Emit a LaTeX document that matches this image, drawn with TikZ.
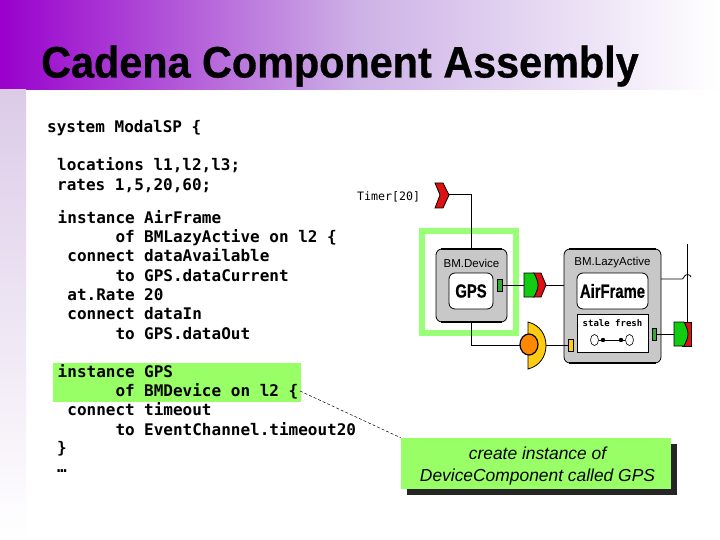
\documentclass[tikz,border=0pt]{standalone}
\usepackage{fontspec}
\setmainfont{Liberation Sans}
\newfontfamily\codefont{DejaVu Sans Mono}
\usetikzlibrary{positioning,calc,shapes.geometric}
\definecolor{hlgreen}{HTML}{99FF66}
\definecolor{frameg}{HTML}{99FF77}
\definecolor{boxgray}{HTML}{C8C8C8}
\definecolor{pgreen}{HTML}{33AA33}
\definecolor{cgreen}{HTML}{11CC11}
\definecolor{cred}{HTML}{DD1111}
\definecolor{cyel}{HTML}{FFCC11}
\definecolor{corange}{HTML}{FF8800}
\definecolor{tpurple}{HTML}{9900CC}
\definecolor{tmid}{HTML}{CDB2E6}
\definecolor{stripc}{HTML}{DCCBE8}
\tikzset{
  px/.style={x=1pt,y=-1pt},
  codeL/.style={anchor=base east,inner sep=0pt,font=\codefont\bfseries\fontsize{16}{16}\selectfont},
  codeR/.style={anchor=base west,inner sep=0pt,font=\codefont\bfseries\fontsize{16}{16}\selectfont},
  wire/.style={draw=black,line width=0.8pt},
  compbox/.style={draw=black,fill=boxgray,line width=0.8pt,rounded corners=6pt,minimum width=0pt,inner sep=0pt},
  innerbox/.style={draw=black,fill=white,line width=0.8pt,rounded corners=6pt,inner sep=0pt,font=\bfseries\fontsize{19}{19}\selectfont},
  port/.style={draw=black,line width=0.4pt,inner sep=0pt,minimum width=4.5pt,minimum height=12pt},
  outline/.style={draw=black,line width=0.8pt},
  smalllabel/.style={inner sep=0pt,font=\fontsize{11.5}{12}\selectfont},
  stateell/.style={draw=black,fill=white,ellipse,line width=0.6pt,inner sep=0pt,minimum width=8pt,minimum height=11pt},
}
\begin{document}
\begin{tikzpicture}[px]
\useasboundingbox (0,0) rectangle (720,540);
\fill[white] (0,0) rectangle (720,540);
% header band and strip
\shade[left color=tpurple,right color=white,middle color=tmid] (0,0) rectangle (720,90);
\shade[top color=stripc,bottom color=white] (0,90) rectangle (26,540);
\node[anchor=base west,inner sep=0pt,font=\bfseries\fontsize{44}{44}\selectfont] (title) at (41,77.5) {\addfontfeatures{FakeStretch=0.94,FakeBold=0.7}Cadena Component Assembly};
% highlight
\fill[hlgreen] (53,363) rectangle (301,402);
% code
\node[codeR] (c1) at (47,132.5) {system ModalSP \{};
\node[codeR] (c2) at (57,170.5) {locations l1,l2,l3;};
\node[codeR] (c3) at (57,190.5) {rates 1,5,20,60;};
\foreach \n/\y/\l/\r in {a/223.5/instance/AirFrame,b/242.5/of/BMLazyActive on l2 \{,d/261.5/connect/dataAvailable,e/281/to/GPS.dataCurrent,f/300.5/at.Rate/20,g/319.5/connect/dataIn,h/339/to/GPS.dataOut,i/377/instance/GPS,j/396.5/of/BMDevice on l2 \{,k/415.5/connect/timeout,m/435/to/EventChannel.timeout20}{
  \node[codeL] (l\n) at (135,\y) {\l};
  \node[codeR] (r\n) at (144,\y) {\r};
}
\node[codeR] (c4) at (57,453.5) {\}};
\node[codeR] (c5) at (57,472.5) {…};
% green frame
\draw[frameg,line width=6pt] (422,231) rectangle (516,333);
% component boxes
\node[compbox,minimum width=71pt,minimum height=73pt] (dev) at (471.5,285.5) {};
\node[compbox,minimum width=97pt,minimum height=114pt] (lazy) at (612.5,306) {};
\draw[line width=1.4pt] (441,249) -- (502,249) (441,322) -- (502,322);
\draw[line width=1.4pt] (569,249) -- (656,249) (569,363) -- (656,363);
\node[smalllabel] (devt) at (471.5,263) {BM.Device};
\node[smalllabel] (lazyt) at (612.5,263) {BM.LazyActive};
\node[innerbox,minimum width=44pt,minimum height=36pt] (gps) at (471,291) {\addfontfeatures{FakeStretch=0.78,FakeBold=0.5}GPS};
\node[innerbox,minimum width=71pt,minimum height=36pt] (af) at (612.5,291) {\addfontfeatures{FakeStretch=0.78,FakeBold=0.5}AirFrame};
\node[draw=black,fill=white,line width=0.8pt,inner sep=0pt,minimum width=71pt,minimum height=38pt] (sf) at (612.5,333) {};
\node[inner sep=0pt,font=\codefont\bfseries\fontsize{9}{9}\selectfont] (sft) at (612.5,323) {stale fresh};
\node[stateell] (s1) at (594.5,340) {};
\node[stateell] (s2) at (629.5,340) {};
\draw[line width=0.7pt] (s1) -- (s2);
\fill (603,340) circle (2.2pt) (621,340) circle (2.2pt);
% ports
\node[port,fill=pgreen] (p1) at (499.5,285) {};
\node[port,fill=cyel] (p2) at (570.5,345) {};
\node[port,fill=pgreen] (p3) at (654,334) {};
% connection points
\coordinate (tmr) at (449,194);
\coordinate (c1w) at (524,285);
\coordinate (c1e) at (546,285);
\coordinate (yle) at (546,345);
\coordinate (orw) at (520,345);
\coordinate (c2w) at (674,334);
\coordinate (vtop) at (687.5,244);
\coordinate (vbot) at (687.5,322);
\coordinate (hop) at (682,279);
\coordinate (devn) at (471,249);
\coordinate (devs) at (471,322);
\coordinate (lazye) at (661,279);
% wires
\draw[wire] (tmr) -| (devn);
\draw[wire] (p1) -- (c1w);
\draw[wire] (c1e) -- (lazy.west |- c1e);
\draw[wire] (devs) |- (orw);
\draw[wire] (yle) -- (p2);
\draw[wire] (p3) -- (c2w);
\draw[wire] (vtop) -- (vbot);
\draw[wire] (lazye) -- (hop) .. controls (684,279) and (684,274.5) .. (687.5,274.5) .. controls (690,274.5) and (690.5,276) .. (691,277);
% red chevron (timer)
\draw[outline,fill=cred] (435,183) -- (443,183) -- (449,195) -- (443,208) -- (435,208) -- (440,195) -- cycle;
% green/red connector 1
\draw[outline,fill=cred] (533,273) -- (541,273) -- (546,285) -- (541,297) -- (533,297) -- cycle;
\draw[outline,fill=cgreen] (524,273) -- (534,273) .. controls (536,277) and (538,281) .. (538,285) .. controls (538,289) and (536,293) .. (534,297) -- (524,297) -- cycle;
% yellow half and orange circle
\draw[outline,fill=cyel] (528,322) .. controls (540,325) and (546,335) .. (546,345.5) .. controls (546,356) and (540,366) .. (528,369) -- cycle;
\draw[outline,fill=corange,line width=1.2pt] (529,344.5) ellipse (9pt and 10.5pt);
% green/red connector 2
\draw[outline,fill=cred] (682,322) -- (691,322) -- (691,346) -- (682,346) -- cycle;
\draw[outline,fill=cgreen] (674,322) -- (684,322) .. controls (686,326) and (688,330) .. (688,334) .. controls (688,338) and (686,342) .. (684,346) -- (674,346) -- cycle;
% timer label
\node[anchor=base west,inner sep=0pt,font=\codefont\fontsize{11.6}{12}\selectfont] (tl) at (357,201) {Timer[20]};
% callout
\fill[black!85] (407,444) rectangle (677,495);
\node[fill=hlgreen,inner sep=0pt,minimum width=270pt,minimum height=51pt] (call) at (536,463.5) {};
\node[inner sep=0pt,align=center,font=\itshape\fontsize{17.4}{22}\selectfont] (callt) at (537.5,466) {create instance of\\DeviceComponent called GPS};
\coordinate (brace) at (300,391);
\draw[densely dashed,line width=0.5pt] (brace) -- (call.north west);
\end{tikzpicture}
\end{document}
